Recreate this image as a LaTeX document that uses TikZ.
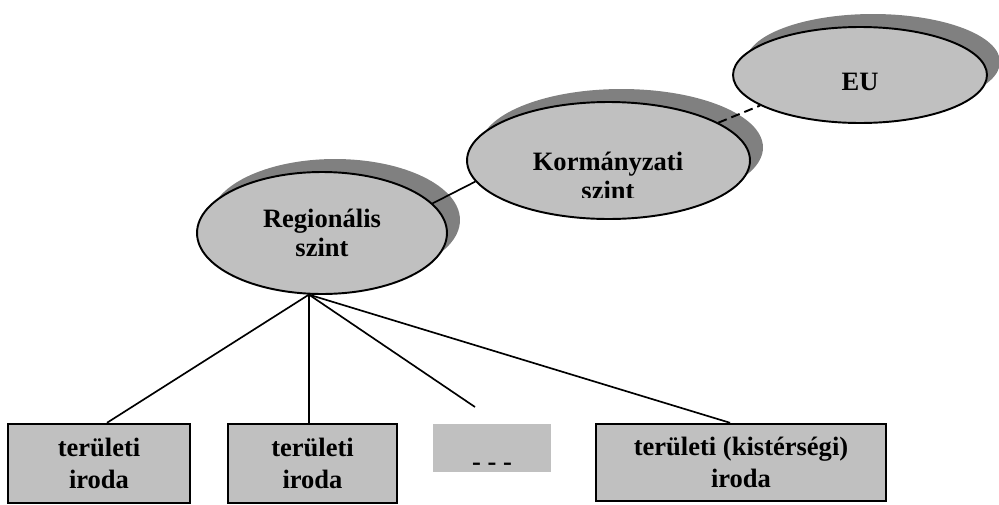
\documentclass[tikz,border=0pt]{standalone}
\usepackage{fontspec}
\setmainfont{Liberation Serif}
\usetikzlibrary{shapes.geometric,shadows}
\definecolor{tiergray}{HTML}{C0C0C0}
\definecolor{shadegray}{HTML}{808080}
\tikzset{
	tiertext/.style={font=\bfseries\fontsize{15.1}{16.5}\selectfont, align=center, inner sep=0pt},
	tier/.style={tiertext, ellipse, draw, line width=1.1pt, fill=tiergray,
		drop shadow={shadow xshift=0.26cm, shadow yshift=0.26cm, fill=shadegray, opacity=1}},
	office/.style={rectangle, draw, line width=1.4pt, fill=tiergray, inner sep=0pt, align=center,
		font=\bfseries\fontsize{15.1}{18.2}\selectfont},
	link/.style={line width=0.95pt},
}

\begin{document}
\begin{tikzpicture}[x=0.02cm,y=-0.02cm]
	\useasboundingbox (0,0) rectangle (999,504);
	\node[tier, minimum width=5.08cm, minimum height=1.92cm, text height=0.6cm, text depth=0pt] (eu) at (860,75) {EU};
	\node[tier, minimum width=5.66cm, minimum height=2.34cm] (korm) at (608.5,160.5) {};
	\begin{scope}
		\clip (460,95) rectangle (760,197);
		\node[tiertext] (kormlabel) at (608,176) {Kormányzati\\szint};
	\end{scope}
	\node[tier, minimum width=5cm, minimum height=2.44cm] (reg) at (322,233) {Regionális\\szint};

	\node[office, minimum width=3.64cm, minimum height=1.58cm] (b1) at (99,463.5) {területi\\iroda};
	\node[office, minimum width=3.38cm, minimum height=1.58cm] (b2) at (312.5,463.5) {területi\\iroda};
	\node[office, draw=none, minimum width=2.36cm, minimum height=0.96cm, text height=0.88cm, text depth=0pt] (dots) at (492,448) {- - -};
	\node[office, minimum width=5.8cm, minimum height=1.54cm] (b4) at (741,462.5) {területi (kistérségi)\\iroda};
	\coordinate (dotend) at (475,407);

	\path[link]
	(reg.15.6) edge (korm.189.6)
	(reg.258.9) edge ([xshift=0.16cm]b1.north)
		edge (reg.258.9 |- b2.north)
		edge (dotend)
		edge ([xshift=-0.22cm]b4.north);
	\path[link, line width=1.1pt, dash pattern=on 0.18cm off 0.1cm]
	(korm.19.9) edge (eu.197.4);
\end{tikzpicture}
\end{document}
